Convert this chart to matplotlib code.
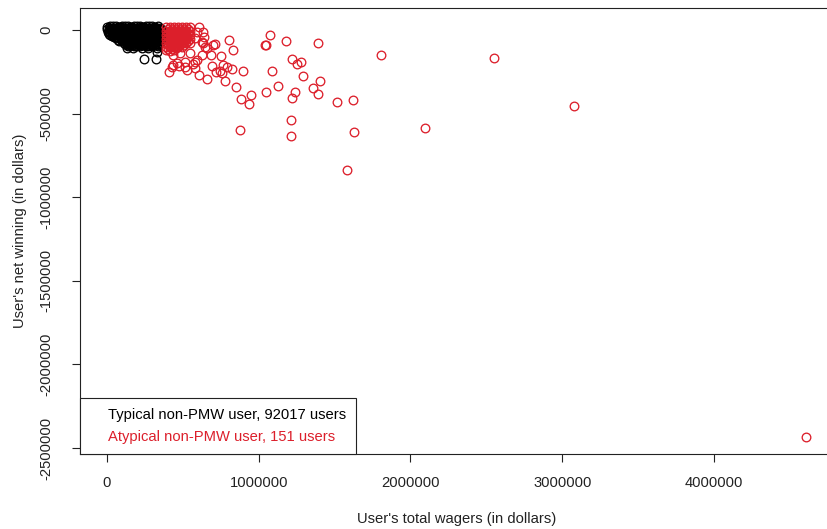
import numpy as np
import matplotlib
matplotlib.use("Agg")
import matplotlib.pyplot as plt
from matplotlib.lines import Line2D

plt.rcParams["font.family"] = ["Liberation Sans", "DejaVu Sans"]

# Typical non-PMW users: total wagers and net winning, thousands of dollars
typical_wager_k = [
    0, 18, 38, 57, 78, 97, 118, 137, 158, 177, 196, 216, 236, 256, 276, 296, 315, 334,
    10, 30, 49, 69, 89, 109, 129, 148, 168, 188, 208, 227, 247, 267, 287, 307, 326, 346,
    2, 20, 40, 60, 80, 100, 120, 140, 160, 180, 200, 220, 240, 260, 280, 300, 320, 340, 356,
    11, 31, 50, 70, 90, 110, 130, 149, 169, 189, 209, 228, 248, 268, 288, 308, 327, 347,
    4, 22, 41, 61, 81, 101, 121, 141, 161, 181, 201, 221, 241, 261, 281, 301, 321, 341, 357,
    12, 32, 51, 71, 91, 111, 131, 150, 170, 190, 210, 229, 249, 269, 289, 309, 328, 348,
    20, 39, 58, 78, 98, 118, 138, 158, 178, 198, 218, 238, 258, 278, 298, 318, 338, 355,
    33, 49, 69, 89, 109, 129, 148, 168, 188, 208, 227, 247, 267, 287, 307, 326, 346,
    58, 78, 98, 118, 138, 158, 178, 198, 218, 238, 258, 278, 298, 318, 338, 355,
    70, 90, 110, 130, 149, 169, 189, 209, 228, 248, 268, 288, 308, 327, 347,
    80, 100, 120, 140, 160, 180, 200, 220, 240, 260, 280, 300, 320, 340, 356,
    109, 129, 148, 168, 188, 208, 227, 247, 267, 287, 307, 326, 346,
    119, 139, 159, 179, 199, 219, 239, 259, 279, 299, 319, 339,
    130, 150, 169, 189, 209, 228, 248, 268, 288, 308, 327,
    140, 178, 216, 256, 296, 336,
    132, 171, 231, 270, 329, 329, 244, 323,
]
typical_net_k = [
    20, 22, 21, 23, 20, 22, 21, 23, 20, 22, 21, 23, 20, 22, 21, 22, 20, 21,
    13, 14, 12, 13, 15, 12, 14, 13, 12, 14, 13, 15, 12, 13, 14, 12, 13, 14,
    6, 4, 7, 5, 6, 4, 7, 5, 6, 4, 7, 5, 6, 4, 7, 5, 6, 4, 5,
    -3, -2, -4, -3, -1, -4, -2, -3, -4, -2, -3, -1, -4, -3, -2, -4, -3, -2,
    -10, -13, -11, -14, -12, -10, -13, -11, -14, -12, -10, -13, -11, -14, -12, -10, -13, -11, -12,
    -21, -20, -22, -21, -19, -22, -20, -21, -22, -20, -21, -19, -22, -21, -20, -22, -21, -20,
    -28, -31, -29, -32, -30, -28, -31, -29, -32, -30, -28, -31, -29, -32, -30, -28, -31, -29,
    -38, -39, -40, -38, -39, -41, -38, -40, -39, -38, -40, -39, -41, -38, -39, -40, -39,
    -46, -49, -47, -50, -48, -46, -49, -47, -50, -48, -46, -49, -47, -50, -48, -46,
    -57, -56, -58, -57, -55, -58, -56, -57, -58, -56, -57, -55, -58, -57, -56,
    -64, -67, -65, -68, -66, -64, -67, -65, -68, -66, -64, -67, -65, -68, -66,
    -75, -74, -76, -75, -73, -76, -74, -75, -76, -74, -75, -73, -76,
    -82, -85, -83, -86, -84, -82, -85, -83, -86, -84, -82, -85,
    -91, -92, -90, -93, -91, -92, -90, -93, -91, -92, -90,
    -97, -95, -98, -96, -97, -95,
    -108, -110, -108, -110, -106, -132, -173, -173,
]

# Atypical non-PMW users, thousands of dollars
atypical_wager_k = [
    # dense group next to the typical users
    389, 415, 442, 468, 494, 521, 547,
    402, 428, 455, 481, 507, 534,
    392, 418, 444, 470, 497, 523, 549,
    401, 429, 456, 482, 508, 535,
    387, 413, 440, 466, 492, 519, 545,
    403, 427, 454, 480, 506, 533,
    391, 417, 443, 469, 496, 522, 548,
    400, 428, 455, 481, 507, 532,
    388, 414, 441, 467, 493, 520, 546,
    402, 429, 456, 482, 506,
    390, 416, 443, 470, 495,
    401, 428, 455,
    389, 415, 442,
    # scattered users
    606, 633, 712, 804, 830, 1074, 1048, 1041, 1180, 1390,
    1806, 1219, 1278, 1252, 1087, 896, 1292, 1404, 1358, 1390,
    1239, 1219, 1127, 1048, 850, 949, 883, 936, 1516, 1621,
    1213, 1213, 876, 1628, 2096, 1582, 778, 824, 791, 764,
    745, 758, 692, 751, 685, 659, 606, 527, 409, 428,
    461, 514, 593, 580, 626, 646, 633, 435, 481, 547,
    2550, 3077, 4606,
    593, 640, 580, 626, 700, 659, 514, 580, 435, 475, 567, 717,
]
atypical_net_k = [
    18, 16, 19, 17, 18, 16, 15,
    6, 7, 5, 6, 4, 5,
    -6, -4, -7, -5, -6, -8, -4,
    -18, -17, -19, -18, -16, -19,
    -30, -28, -31, -29, -30, -32, -28,
    -42, -41, -43, -42, -40, -43,
    -54, -52, -55, -53, -54, -56, -52,
    -66, -65, -67, -66, -64, -67,
    -78, -76, -79, -77, -78, -80, -76,
    -90, -89, -91, -90, -88,
    -102, -100, -103, -101, -104,
    -111, -112, -110,
    -120, -123, -121,
    18, -12, -84, -60, -120, -30, -90, -90, -66, -78,
    -150, -173, -191, -203, -245, -245, -275, -305, -347, -383,
    -371, -407, -335, -371, -341, -389, -413, -443, -431, -419,
    -538, -634, -598, -610, -586, -837, -305, -233, -221, -209,
    -245, -257, -215, -155, -150, -293, -269, -239, -251, -221,
    -197, -191, -179, -191, -150, -102, -78, -150, -138, -138,
    -167, -455, -2434,
    -12, -42, -48, -72, -90, -108, -222, -228, -210, -216, -204, -250,
]

legend_labels = ["Typical non-PMW user, 92017 users",
                 "Atypical non-PMW user, 151 users"]
x_ticks = [0, 1000000, 2000000, 3000000, 4000000]
y_ticks = [0, -500000, -1000000, -1500000, -2000000, -2500000]

RED = "#dc1f2b"
INK = "#222222"
FS = 10.6

fig = plt.figure(figsize=(8.27, 5.29), dpi=100)
ax = fig.add_axes([80 / 827, 75 / 529, 754 / 827, 446 / 529])

ax.plot(np.array(typical_wager_k) * 1000, np.array(typical_net_k) * 1000,
        linestyle="none", marker="o", markersize=6.2, markerfacecolor="none",
        markeredgecolor="black", markeredgewidth=0.95)
ax.plot(np.array(atypical_wager_k) * 1000, np.array(atypical_net_k) * 1000,
        linestyle="none", marker="o", markersize=6.2, markerfacecolor="none",
        markeredgecolor=RED, markeredgewidth=0.95)

ax.set_xlim(-177900, 4790900)
ax.set_ylim(-2535900, 131600)

ax.set_xticks(x_ticks)
ax.set_xticklabels([str(v) for v in x_ticks])
ax.set_yticks(y_ticks)
ax.set_yticklabels([str(v) for v in y_ticks], rotation=90, va="center")
ax.tick_params(direction="out", length=5.5, width=0.8, labelsize=FS,
               color=INK, labelcolor=INK)
ax.tick_params(axis="x", pad=10)
ax.tick_params(axis="y", pad=13.5)
for s in ax.spines.values():
    s.set_linewidth(0.8)
    s.set_color(INK)

ax.set_xlabel("User's total wagers (in dollars)", fontsize=FS, color=INK,
              labelpad=16)
ax.set_ylabel("User's net winning (in dollars)", fontsize=FS, color=INK,
              labelpad=9)

handles = [Line2D([], [], linestyle="none") for _ in legend_labels]
leg = ax.legend(handles, legend_labels, loc="lower left", borderaxespad=0,
                fontsize=FS, labelcolor=["black", RED], frameon=True,
                fancybox=False, framealpha=1, edgecolor=INK,
                borderpad=0.68, handlelength=0.8, handletextpad=0.4,
                labelspacing=0.55)
leg.get_frame().set_linewidth(0.8)

fig.savefig("out.png", dpi=100)
